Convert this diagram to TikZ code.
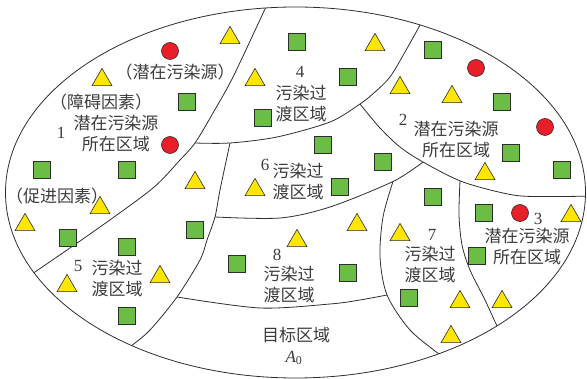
\documentclass[tikz,border=0pt]{standalone}
\usepackage{fontspec}
\setmainfont{Liberation Serif}
\newfontfamily\cjk{Noto Sans CJK SC}
\usetikzlibrary{shapes.geometric}
\definecolor{sqgreen}{RGB}{108,189,69}
\definecolor{triyel}{RGB}{255,230,0}
\definecolor{dotred}{RGB}{232,30,40}
\definecolor{txt}{RGB}{60,60,60}
\definecolor{edge}{RGB}{45,45,45}
\begin{document}
\begin{tikzpicture}[x=1pt,y=-1pt,
  bound/.style={draw=edge, line width=0.8pt},
  sq/.style={draw=edge, fill=sqgreen, line width=0.6pt, minimum size=16.5pt, inner sep=0pt},
  tri/.style={draw=edge, fill=triyel, line width=0.6pt, regular polygon, regular polygon sides=3, minimum size=23pt, inner sep=0pt, yshift=-2.9pt},
  dot/.style={draw=edge, fill=dotred, line width=0.6pt, circle, minimum size=17pt, inner sep=0pt},
  lab/.style={font=\cjk\fontsize{17}{21}\selectfont, text=txt, inner sep=0pt, align=center},
  num/.style={font=\fontsize{17}{20}\selectfont, text=txt, inner sep=0pt}]
\useasboundingbox (0,0) rectangle (587,379);

% region boundaries
\begin{scope}
\clip (295.5,192.5) ellipse [x radius=290pt, y radius=185.5pt];
\draw[bound] plot[smooth] coordinates {(270,-2) (265,9) (233,77) (213,113) (195,143) (180,160) (153,188) (100,227) (35,272) (20,282)};
\draw[bound] plot[smooth] coordinates {(195,143) (230,143) (277,137) (330,122) (360,104) (375,92) (390,77) (405,52) (420,25) (427,10)};
\draw[bound] plot[smooth] coordinates {(360,104) (380,128) (400,147) (423,162) (463,182) (513,195) (550,196.5) (600,196)};
\draw[bound] plot[smooth] coordinates {(215,217) (280,218) (330,207) (393,181.5) (423,162)};
\draw[bound] plot[smooth] coordinates {(230,143) (220,190) (215,217) (207,240) (200,260) (177,297) (150,330) (130,347) (118,357)};
\draw[bound] plot[smooth] coordinates {(393,181.5) (383,217) (380,257) (387,295) (410,330) (443,357) (456,366)};
\draw[bound] plot[smooth] coordinates {(177,297) (260,308) (330,304) (360,300) (387,295)};
\draw[bound] plot[smooth] coordinates {(460,181) (459,215) (462,245) (470,270) (485,300) (498,328) (506,342)};
\end{scope}
\draw[bound] (295.5,192.5) ellipse [x radius=290pt, y radius=185.5pt];

% squares
\foreach \x/\y [count=\i] in {297/42, 348/77, 433/50, 502/102, 187/102, 263/118, 511/153, 562/170, 323/145, 383/162, 340/187, 42/170, 127/170, 68/238, 195/230, 127/247, 127/316, 237/264, 348/273, 433/197, 484/213, 477/256, 409/298}
  \node[sq] (s\i) at (\x,\y) {};
% triangles
\foreach \x/\y [count=\i] in {230/35, 102/77, 255/77, 375/42, 400/85, 452/94, 485/171, 195/180, 255/187, 100/205, 25/222, 160/274, 67/283, 297/238, 357/222, 400/232, 571/213, 460/299, 502/299, 451/334}
  \node[tri] (t\i) at (\x,\y) {};
% circles
\foreach \x/\y [count=\i] in {170/51, 170/145, 476/68, 545/127, 520/213}
  \node[dot] (c\i) at (\x,\y) {};

% labels
\node[lab] (l1a) at (175,72) {（潜在污染源）};
\node[lab] (l1b) at (101,102) {（障碍因素）};
\node[num] (n1) at (61,133) {1};
\node[lab] (l1) at (116,134) {潜在污染源\\所在区域};
\node[lab] (l1c) at (57,196) {（促进因素）};
\node[num] (n4) at (300,72) {4};
\node[lab] (l4) at (301,103.5) {污染过\\渡区域};
\node[num] (n2) at (403,120) {2};
\node[lab] (l2) at (456,140) {潜在污染源\\所在区域};
\node[num] (n6) at (265,165) {6};
\node[lab] (l6) at (298,182) {污染过\\渡区域};
\node[num] (n5) at (78,266) {5};
\node[lab] (l5) at (117,278.5) {污染过\\渡区域};
\node[num] (n8) at (277,255) {8};
\node[lab] (l8) at (289,285) {污染过\\渡区域};
\node[lab] (l0) at (296,335) {目标区域};
\node[num] (a0) at (294,358) {\itshape A\textsubscript{\upshape 0}};
\node[num] (n7) at (432,235) {7};
\node[lab] (l7) at (430,265) {污染过\\渡区域};
\node[num] (n3) at (538,219) {3};
\node[lab] (l3) at (527,247) {潜在污染源\\所在区域};
\end{tikzpicture}
\end{document}
